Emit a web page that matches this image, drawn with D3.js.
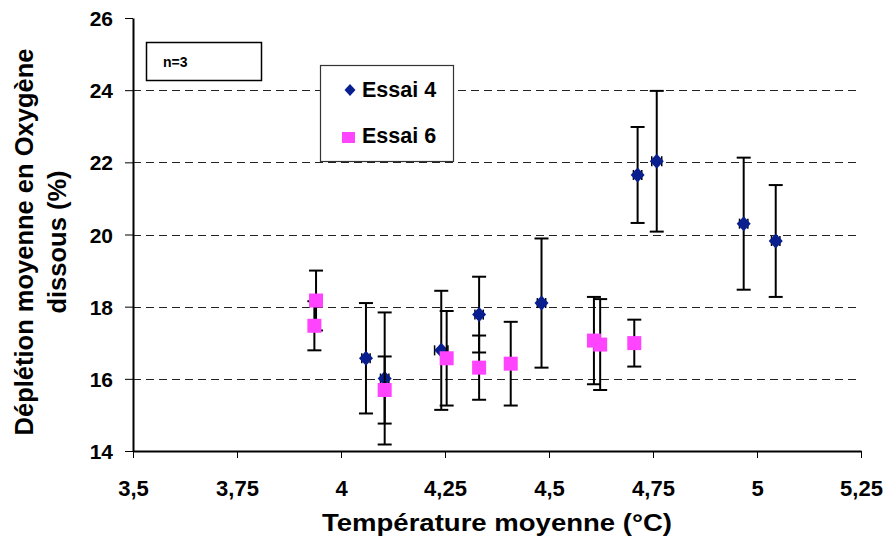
<!DOCTYPE html>
<html>
<head>
<meta charset="utf-8">
<script src="https://cdn.jsdelivr.net/npm/d3@7"></script>
<style>
  html, body { margin: 0; padding: 0; background: #fff; }
  svg { display: block; }
  text { font-family: "Liberation Sans", Arial, sans-serif; font-weight: bold; fill: #000; }
</style>
</head>
<body>
<svg id="chart" width="891" height="544"></svg>
<script>
// ---- Data ----
const xTicks = [3.5, 3.75, 4, 4.25, 4.5, 4.75, 5, 5.25];
const yTicks = [14, 16, 18, 20, 22, 24, 26];
const gridValues = [16, 18, 20, 22, 24];

const essai4Temp = [4.06, 4.105, 4.241, 4.332, 4.482, 4.713, 4.759, 4.968, 5.045];
const essai4Val  = [16.57, 16.01, 16.79, 17.78, 18.10, 21.65, 22.03, 20.30, 19.82];
const essai4Err  = [1.53, 1.83, 1.65, 1.05, 1.79, 1.33, 1.95, 1.83, 1.55];
const essai4XErr = [0.010, 0.010, 0.016, 0.010, 0.010, 0.010, 0.012, 0.010, 0.010];

const essai6Temp = [3.940, 3.936, 4.105, 4.254, 4.332, 4.408, 4.608, 4.623, 4.705];
const essai6Val  = [18.17, 17.47, 15.69, 16.57, 16.31, 16.42, 17.06, 16.95, 16.99];
const essai6Err  = [0.83, 0.68, 0.93, 1.31, 0.89, 1.16, 1.21, 1.26, 0.65];

const seriesNames = ["Essai 4", "Essai 6"];
const annotation = "n=3";
const xTitle = "Température moyenne (°C)";
const yTitleLines = ["Déplétion moyenne en Oxygène", "dissous (%)"];

// ---- Layout ----
const svg = d3.select("#chart");
const L = 133, R = 861, T = 18, B = 451;
const x = d3.scaleLinear().domain([3.5, 5.25]).range([L, R]);
const y = d3.scaleLinear().domain([14, 26]).range([B, T]);
const fmt = d => String(d).replace(".", ",");

const navy = "#0a1f8f";
const pink = "#ff44ff";

// gridlines
svg.append("g").selectAll("line").data(gridValues).join("line")
  .attr("x1", L).attr("x2", R)
  .attr("y1", d => Math.round(y(d)) + 0.5).attr("y2", d => Math.round(y(d)) + 0.5)
  .attr("stroke", "#222").attr("stroke-width", 1)
  .attr("stroke-dasharray", "8,5");

// axes
const yAxis = d3.axisLeft(y).tickValues(yTicks).tickSize(8).tickSizeOuter(0).tickPadding(12).tickFormat(fmt);
const gy = svg.append("g").attr("transform", `translate(${L},0)`).call(yAxis);
gy.select(".domain").attr("stroke", "#000").attr("stroke-width", 2);
gy.selectAll(".tick line").attr("stroke", "#000").attr("stroke-width", 1);
gy.selectAll(".tick text").style("font-size", "21px").attr("dy", "0.36em")
  .style("font-family", "'Liberation Sans', Arial, sans-serif").style("font-weight", "bold");

const xAxis = d3.axisBottom(x).tickValues(xTicks).tickSize(7).tickSizeOuter(0).tickPadding(30).tickFormat(fmt);
const gx = svg.append("g").attr("transform", `translate(0,${B})`).call(xAxis);
gx.select(".domain").attr("stroke", "#000").attr("stroke-width", 2);
gx.selectAll(".tick line").attr("stroke", "#000").attr("stroke-width", 1);
gx.selectAll(".tick text").style("font-size", "22px").attr("dy", "0.35em")
  .style("font-family", "'Liberation Sans', Arial, sans-serif").style("font-weight", "bold");

// axis titles
svg.append("text").attr("x", 497).attr("y", 531).attr("text-anchor", "middle")
  .style("font-size", "24px")
  .attr("textLength", 350).attr("lengthAdjust", "spacingAndGlyphs")
  .text(xTitle);

const yt = svg.append("text").attr("transform", "translate(0,242) rotate(-90)")
  .attr("text-anchor", "middle").style("font-size", "25.5px");
yt.selectAll("tspan").data(yTitleLines).join("tspan")
  .attr("x", 0).attr("y", (d, i) => 33 + i * 33).text(d => d);

// error bars helper
function errBars(g, temps, vals, errs) {
  const cap = 7;
  const d = temps.map((t, i) => ({ t, v: vals[i], e: errs[i] }));
  const eg = g.append("g").attr("stroke", "#000").attr("stroke-width", 2);
  eg.selectAll("line.v").data(d).join("line").attr("class", "v")
    .attr("x1", p => x(p.t)).attr("x2", p => x(p.t))
    .attr("y1", p => y(p.v + p.e)).attr("y2", p => y(p.v - p.e));
  eg.selectAll("line.t").data(d).join("line").attr("class", "t")
    .attr("x1", p => x(p.t) - cap).attr("x2", p => x(p.t) + cap)
    .attr("y1", p => y(p.v + p.e)).attr("y2", p => y(p.v + p.e));
  eg.selectAll("line.b").data(d).join("line").attr("class", "b")
    .attr("x1", p => x(p.t) - cap).attr("x2", p => x(p.t) + cap)
    .attr("y1", p => y(p.v - p.e)).attr("y2", p => y(p.v - p.e));
}
function xErrBars(g, temps, vals, xerrs) {
  const cap = 5;
  const d = temps.map((t, i) => ({ t, v: vals[i], e: xerrs[i] }));
  const eg = g.append("g").attr("stroke", "#000").attr("stroke-width", 1.5);
  eg.selectAll("line.h").data(d).join("line").attr("class", "h")
    .attr("x1", p => x(p.t - p.e)).attr("x2", p => x(p.t + p.e))
    .attr("y1", p => y(p.v)).attr("y2", p => y(p.v));
  eg.selectAll("line.l").data(d).join("line").attr("class", "l")
    .attr("x1", p => x(p.t - p.e)).attr("x2", p => x(p.t - p.e))
    .attr("y1", p => y(p.v) - cap).attr("y2", p => y(p.v) + cap);
  eg.selectAll("line.r").data(d).join("line").attr("class", "r")
    .attr("x1", p => x(p.t + p.e)).attr("x2", p => x(p.t + p.e))
    .attr("y1", p => y(p.v) - cap).attr("y2", p => y(p.v) + cap);
}

const diamondPath = "M0,-7.5L7,0L0,7.5L-7,0Z";

// Essai 4
const g4 = svg.append("g");
errBars(g4, essai4Temp, essai4Val, essai4Err);
xErrBars(g4, essai4Temp, essai4Val, essai4XErr);
g4.selectAll("path.m").data(essai4Temp).join("path").attr("class", "m")
  .attr("d", diamondPath)
  .attr("transform", (t, i) => `translate(${x(t)},${y(essai4Val[i])})`)
  .attr("fill", navy);

// Essai 6
const g6 = svg.append("g");
errBars(g6, essai6Temp, essai6Val, essai6Err);
g6.selectAll("rect.m").data(essai6Temp).join("rect").attr("class", "m")
  .attr("x", t => x(t) - 7).attr("y", (t, i) => y(essai6Val[i]) - 7)
  .attr("width", 14).attr("height", 14)
  .attr("fill", pink);

// n=3 box
svg.append("rect").attr("x", 146.5).attr("y", 42.5).attr("width", 115).attr("height", 38)
  .attr("fill", "#fff").attr("stroke", "#000").attr("stroke-width", 1.5);
svg.append("text").attr("x", 163).attr("y", 67).style("font-size", "14px").text(annotation);

// legend
const lg = svg.append("g");
lg.append("rect").attr("x", 320.5).attr("y", 65.5).attr("width", 133).attr("height", 96)
  .attr("fill", "#fff").attr("stroke", "#333").attr("stroke-width", 1.2);
lg.append("path").attr("d", "M0,-6L5.5,0L0,6L-5.5,0Z")
  .attr("transform", "translate(350,90)").attr("fill", navy);
lg.append("rect").attr("x", 342).attr("y", 132).attr("width", 13).attr("height", 11).attr("fill", pink);
lg.selectAll("text").data(seriesNames).join("text")
  .attr("x", 362).attr("y", (d, i) => 97 + i * 46)
  .style("font-size", "21.5px").text(d => d);
</script>
</body>
</html>
